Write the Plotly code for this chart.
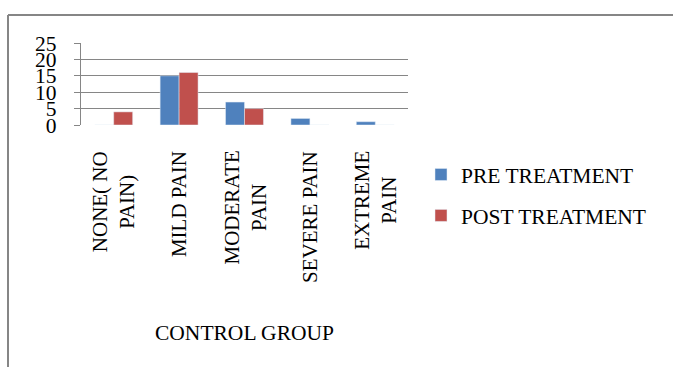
import plotly.graph_objects as go

categories = ["NONE( NO<br>PAIN)", "MILD PAIN", "MODERATE<br>PAIN", "SEVERE PAIN", "EXTREME<br>PAIN"]
pre_treatment = [0, 15, 7, 2, 1]
post_treatment = [4, 16, 5, 0, 0]
y_ticks = [0, 5, 10, 15, 20, 25]

FONT = "Liberation Serif, Times New Roman, serif"
GRID = "#868686"

W, H = 673, 367
L, R, T, B = 81, 408, 43, 125  # plot area in pixels


def px_x(p):
    return (p - L) / (R - L)


def px_y(p):
    return (B - p) / (B - T)


fig = go.Figure()
fig.add_trace(go.Bar(x=categories, y=pre_treatment, name="PRE TREATMENT",
                     marker_color="#4F81BD", legendgroup="pre"))
fig.add_trace(go.Bar(x=categories, y=post_treatment, name="POST TREATMENT",
                     marker_color="#C0504D", legendgroup="post"))

fig.update_layout(
    width=W, height=H,
    margin=dict(l=L, r=W - R, t=T, b=H - B, pad=0),
    paper_bgcolor="white", plot_bgcolor="white",
    font=dict(family=FONT, size=21, color="black"),
    barmode="group", bargap=0.42, bargroupgap=0,
    showlegend=True,
    legend=dict(x=px_x(421), y=px_y(154), xanchor="left", yanchor="top",
                font=dict(family=FONT, size=21.5, color="black"),
                tracegroupgap=10, bgcolor="rgba(0,0,0,0)"),
    xaxis=dict(showticklabels=False, showgrid=False, showline=False, ticks=""),
    yaxis=dict(range=[0, 25], tickvals=y_ticks, showgrid=True, gridcolor=GRID,
               gridwidth=1.2, showline=True, linecolor=GRID, linewidth=1.2,
               ticks="outside", ticklen=6, tickcolor=GRID, tickwidth=1.2,
               zeroline=False, ticklabelstandoff=13,
               tickfont=dict(family=FONT, size=21.5)),
)

# rotated category labels, lines centred on each other
for cat in categories:
    fig.add_annotation(text=cat, x=cat, xref="x", yref="paper", y=px_y(149),
                       xanchor="center", yanchor="top", textangle=-90,
                       align="center", showarrow=False,
                       font=dict(family=FONT, size=21, color="black"))

# outer chart frame (left and top edges)
fig.add_shape(type="line", xref="paper", yref="paper",
              x0=px_x(8), x1=px_x(8), y0=px_y(15), y1=px_y(H + 5),
              line=dict(color=GRID, width=2))
fig.add_shape(type="line", xref="paper", yref="paper",
              x0=px_x(8), x1=px_x(W + 5), y0=px_y(15), y1=px_y(15),
              line=dict(color=GRID, width=2))

fig.add_annotation(text="CONTROL GROUP", xref="paper", yref="paper",
                   x=px_x(245), y=px_y(333), xanchor="center", yanchor="middle",
                   showarrow=False, font=dict(family=FONT, size=21.5, color="black"))

fig.write_html("out.html")
